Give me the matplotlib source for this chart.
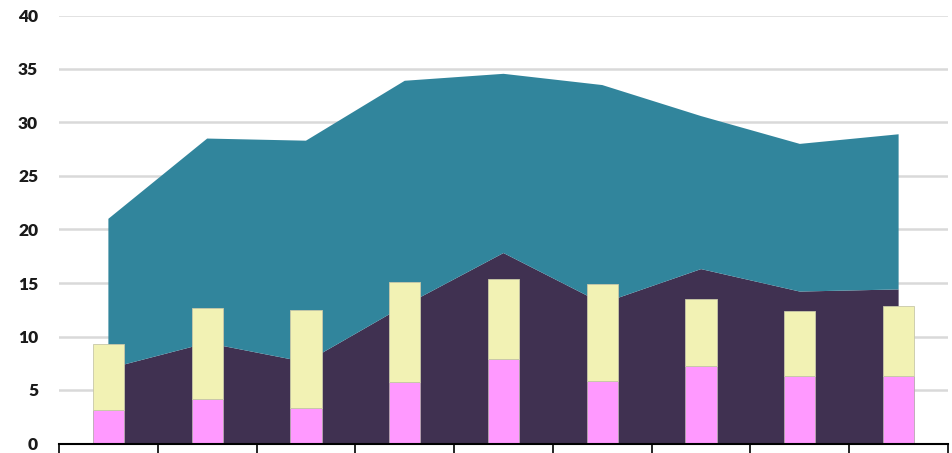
"""
Stacked areas with stacked bars on top
"""

import numpy as np
import matplotlib
matplotlib.use("Agg")
import matplotlib.pyplot as plt


# data
categories = ["1", "2", "3", "4", "5", "6", "7", "8", "9"]
area_bottom = [7.0, 9.4, 7.6, 12.9, 17.8, 13.1, 16.3, 14.2, 14.4]
area_top = [14.0, 19.1, 20.7, 21.0, 16.75, 20.4, 14.3, 13.8, 14.5]
bar_bottom = [3.1, 4.2, 3.3, 5.75, 7.9, 5.8, 7.25, 6.3, 6.35]
bar_top = [6.2, 8.5, 9.2, 9.35, 7.45, 9.1, 6.3, 6.1, 6.5]
y_ticks = [0, 5, 10, 15, 20, 25, 30, 35, 40]

purple = "#403151"
teal = "#31859C"
pink = "#FF99FF"
cream = "#F2F2B4"

fig = plt.figure(figsize=(9.53, 4.53), dpi=100)
ax = fig.add_axes([59 / 953, 9.5 / 453, 889 / 953, 428 / 453])

x = np.arange(len(categories))

# areas
ax.stackplot(x, area_bottom, area_top, colors=[purple, teal], zorder=2, linewidth=0)

# bars
ax.bar(x, bar_bottom, width=0.315, color=pink, edgecolor="#b8a8b0", linewidth=0.6, zorder=3)
ax.bar(x, bar_top, bottom=bar_bottom, width=0.315, color=cream, edgecolor="#c8c8a8",
       linewidth=0.6, zorder=3)

# Axes styling
ax.set_xlim(-0.5, len(categories) - 0.5)
ax.set_ylim(0, 40)
ax.set_yticks(y_ticks)
ax.set_yticklabels([str(t) for t in y_ticks], fontsize=12.5, fontweight="heavy",
                   family=["Lato", "DejaVu Sans"], color="#1a1a1a")
ax.tick_params(axis="y", length=0, pad=15)
ax.set_xticks(np.arange(-0.5, len(categories), 1.0))
ax.set_xticklabels([])
ax.tick_params(axis="x", length=10, width=1.2, color="black", direction="out")
ax.yaxis.grid(True, color="#d9d9d9", linewidth=1.8, zorder=0)
ax.set_axisbelow(True)

for side in ["top", "right", "left"]:
    ax.spines[side].set_visible(False)
ax.spines["bottom"].set_linewidth(1.5)
ax.spines["bottom"].set_zorder(4)

fig.savefig("out.png", dpi=100)
